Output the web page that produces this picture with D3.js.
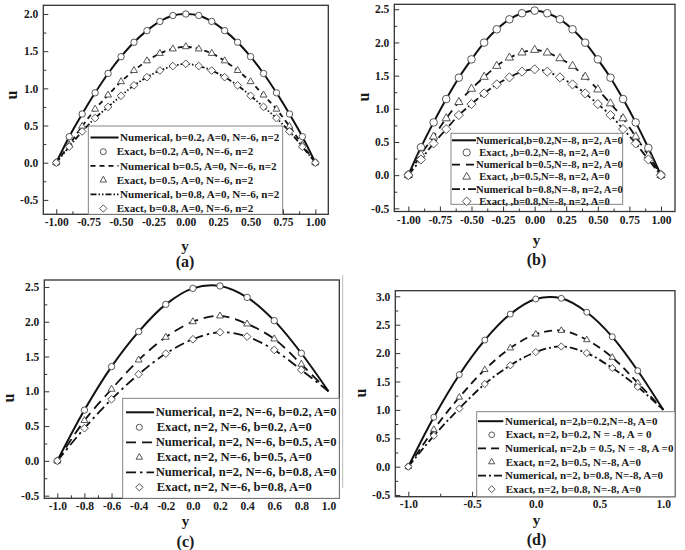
<!DOCTYPE html>
<html><head><meta charset="utf-8">
<script src="https://cdn.jsdelivr.net/npm/d3@7"></script>
<style>
body{margin:0;background:#fff}
svg{display:block}
text{font-family:"Liberation Serif","Times New Roman",serif;font-weight:bold;fill:#1a1a1a}
</style>
</head><body>
<svg id="chart" width="685" height="550"></svg>
<script>
// ---------- DATA ----------
// Panel (a): b = 0.2, 0.5, 0.8 ; A=0, N=-6, n=2
const aY = [-1,-0.9,-0.8,-0.7,-0.6,-0.5,-0.4,-0.3,-0.2,-0.1,0,0.1,0.2,0.3,0.4,0.5,0.6,0.7,0.8,0.9,1];
const aU02 = [0,0.35,0.655,0.94,1.2,1.426,1.62,1.776,1.9,1.98,2.0,1.98,1.9,1.776,1.62,1.426,1.2,0.94,0.655,0.35,0];
const aU05 = [0,0.24,0.49,0.72,0.91,1.09,1.24,1.37,1.47,1.53,1.56,1.53,1.47,1.37,1.24,1.09,0.91,0.72,0.49,0.24,0];
const aU08 = [0,0.215,0.42,0.6,0.75,0.9,1.04,1.15,1.24,1.3,1.33,1.3,1.24,1.15,1.04,0.9,0.75,0.6,0.42,0.215,0];
const aXTicks = [-1,-0.75,-0.5,-0.25,0,0.25,0.5,0.75,1];
const aYTicks = [-0.5,0,0.5,1,1.5,2];
const aLegend = ["Numerical, b=0.2, A=0, N=-6, n=2","Exact, b=0.2, A=0, N=-6, n=2","Numerical b=0.5, A=0, N=-6, n=2","Exact, b=0.5, A=0, N=-6, n=2","Numerical, b=0.8, A=0, N=-6, n=2","Exact, b=0.8, A=0, N=-6, n=2"];

// Panel (b): N=-8
const bY = [-1,-0.9,-0.8,-0.7,-0.6,-0.5,-0.4,-0.3,-0.2,-0.1,0,0.1,0.2,0.3,0.4,0.5,0.6,0.7,0.8,0.9,1];
const bU02 = [0,0.42,0.795,1.147,1.469,1.745,1.997,2.198,2.349,2.44,2.48,2.44,2.349,2.198,1.997,1.745,1.469,1.147,0.795,0.41,0];
const bU05 = [0,0.31,0.58,0.855,1.1,1.3,1.48,1.645,1.77,1.846,1.886,1.846,1.76,1.645,1.48,1.29,1.08,0.855,0.58,0.3,0];
const bU08 = [0,0.236,0.478,0.694,0.905,1.071,1.232,1.368,1.474,1.56,1.595,1.56,1.474,1.368,1.232,1.071,0.905,0.694,0.478,0.236,0];
const bXTicks = [-1,-0.75,-0.5,-0.25,0,0.25,0.5,0.75,1];
const bYTicks = [-0.5,0,0.5,1,1.5,2,2.5];
const bLegend = ["Numerical,b=0.2,N=-8, n=2, A=0","Exact, ,b=0.2,N=-8, n=2, A=0","Numerical b=0.5,N=-8, n=2, A=0","Exact, ,b=0.5,N=-8, n=2, A=0","Numerical b=0.8,N=-8, n=2, A=0","Exact, ,b=0.8,N=-8, n=2, A=0"];

// Panel (c): n=2, N=-6
const cLineY = [-1,-0.8,-0.6,-0.4,-0.2,0,0.2,0.4,0.6,0.8,1.0];
const cNum02 = [0,0.73,1.355,1.858,2.25,2.48,2.514,2.35,2.016,1.547,1.0];
const cNum05 = [0,0.58,1.03,1.45,1.777,2.0,2.083,1.968,1.753,1.389,1.0];
const cNum08 = [0,0.47,0.886,1.245,1.542,1.748,1.849,1.786,1.595,1.307,1.0];
const cExY = [-1,-0.8,-0.6,-0.4,-0.2,0,0.2,0.4,0.6,0.8];
const cEx02 = [0,0.73,1.355,1.858,2.25,2.48,2.514,2.35,2.016,1.547];
const cEx05 = [0,0.58,1.03,1.45,1.777,2.0,2.083,1.968,1.753,1.389];
const cEx08 = [0,0.47,0.886,1.245,1.542,1.748,1.849,1.786,1.595,1.307];
const cXTicks = [-1,-0.8,-0.6,-0.4,-0.2,0,0.2,0.4,0.6,0.8,1];
const cYTicks = [-0.5,0,0.5,1,1.5,2,2.5];
const cLegend = ["Numerical, n=2, N=-6, b=0.2, A=0","Exact, n=2, N=-6, b=0.2, A=0","Numerical, n=2, N=-6, b=0.5, A=0","Exact, n=2, N=-6, b=0.5, A=0","Numerical, n=2, N=-6, b=0.8, A=0","Exact, n=2, N=-6, b=0.8, A=0"];

// Panel (d): n=2, N=-8
const dLineY = [-1,-0.8,-0.6,-0.4,-0.2,0,0.2,0.4,0.6,0.8,1.0];
const dNum02 = [0,0.87,1.62,2.23,2.687,2.953,2.965,2.72,2.287,1.69,1.0];
const dNum05 = [0,0.655,1.222,1.708,2.088,2.333,2.398,2.234,1.924,1.474,1.0];
const dNum08 = [0,0.544,1.023,1.456,1.784,2.018,2.117,2.0,1.737,1.404,1.0];
const dExY = [-1,-0.8,-0.6,-0.4,-0.2,0,0.2,0.4,0.6,0.8];
const dEx02 = [0,0.87,1.62,2.23,2.687,2.953,2.965,2.72,2.287,1.69];
const dEx05 = [0,0.655,1.222,1.708,2.088,2.333,2.398,2.234,1.924,1.474];
const dEx08 = [0,0.544,1.023,1.456,1.784,2.018,2.117,2.0,1.737,1.404];
const dXTicks = [-1,-0.5,0,0.5,1];
const dYTicks = [-0.5,0,0.5,1,1.5,2,2.5,3];
const dLegend = ["Numerical, n=2,b=0.2,N=-8, A=0","Exact, n=2, b=0.2, N = -8, A = 0","Numerical, n=2,b = 0.5, N = -8, A =0","Exact, n=2, b=0.5, N=-8, A=0","Numerical, n=2, b=0.8, N=-8, A=0","Exact, n=2, b=0.8, N=-8, A=0"];

// ---------- LAYOUT / STYLE ----------
const panels = [
  {cap:"(a)", frame:{l:43.3,t:5.3,r:328.3,b:214.3}, xDom:[-1.1,1.1], yDom:[-0.694,2.117],
   xTicks:aXTicks, xDec:2, yTicks:aYTicks, mr:3.2, capPos:[185,267], xtPos:[185,251], ytPos:[17,95], pad:4,
   dashes:[null,"5,4","6,2,1.5,2,1.5,2"],
   series:[[aY,aU02,aY,aU02],[aY,aU05,aY,aU05],[aY,aU08,aY,aU08]],
   legend:{text:aLegend, box:[88.3,126,194.4,88.3], y0:137.5, dy:14.2, l0:90.5, l1:118.5, sx:103.3, tN:120, tE:116.7, fs:11.1}},
  {cap:"(b)", frame:{l:394.3,t:4.3,r:675,b:211.5}, xDom:[-1.111,1.111], yDom:[-0.548,2.575],
   xTicks:bXTicks, xDec:2, yTicks:bYTicks, mr:3.8, capPos:[536.5,265], xtPos:[536.5,245], ytPos:[369,97], pad:4,
   dashes:[null,"8,6","8,3,2,3"],
   series:[[bY,bU02,bY,bU02],[bY,bU05,bY,bU05],[bY,bU08,bY,bU08]],
   legend:{text:bLegend, box:[451,133.3,171.7,71], y0:140.3, dy:12.2, l0:452, l1:476, sx:466.7, tN:476, tE:479.3, fs:10.6}},
  {cap:"(c)", frame:{l:44.3,t:280,r:339.3,b:498.3}, xDom:[-1.096,1.08], yDom:[-0.538,2.6],
   xTicks:cXTicks, xDec:1, yTicks:cYTicks, mr:3.2, capPos:[185.5,547], xtPos:[185.5,526], ytPos:[14,398], pad:4,
   dashes:[null,"10,6","10,4,2.5,4"],
   series:[[cLineY,cNum02,cExY,cEx02],[cLineY,cNum05,cExY,cEx05],[cLineY,cNum08,cExY,cEx08]],
   legend:{text:cLegend, box:[122.7,398.3,216.6,100], y0:412.3, dy:15, l0:126, l1:154, sx:139.3, tN:155.7, tE:156.7, fs:12.6}},
  {cap:"(d)", frame:{l:395.3,t:290.7,r:675,b:496.7}, xDom:[-1.102,1.092], yDom:[-0.529,3.099],
   xTicks:dXTicks, xDec:1, yTicks:dYTicks, mr:3.0, capPos:[536.5,545], xtPos:[536.5,524.5], ytPos:[365.5,393], pad:3,
   dashes:[null,"8,5","8,3,2,3"],
   series:[[dLineY,dNum02,dExY,dEx02],[dLineY,dNum05,dExY,dEx05],[dLineY,dNum08,dExY,dEx08]],
   legend:{text:dLegend, box:[476.7,411.7,198.3,85], y0:421.2, dy:13.6, l0:478, l1:503.3, sx:491.7, tN:505, tE:505.7, fs:11}}
];
const symbols = ["circle","triangle","diamond"];

const svg = d3.select("#chart");
svg.append("rect").attr("width",685).attr("height",550).attr("fill","#fff");
// faint separator line at left of panel (d)
svg.append("line").attr("x1",342.7).attr("x2",342.7).attr("y1",275).attr("y2",488)
  .attr("stroke","#bbb").attr("stroke-width",1);

function symPath(type, r){
  if(type==="circle"){ const p=d3.path(); p.arc(0,0,r,0,2*Math.PI); return p.toString(); }
  if(type==="triangle"){ const s=r*1.25; return `M0,${-s}L${s*0.866},${s*0.5}L${-s*0.866},${s*0.5}Z`; }
  const s=r*1.2; return `M0,${-s}L${s},0L0,${s}L${-s},0Z`;
}

panels.forEach(P=>{
  const f=P.frame;
  const x=d3.scaleLinear().domain(P.xDom).range([f.l,f.r]);
  const y=d3.scaleLinear().domain(P.yDom).range([f.b,f.t]);
  const g=svg.append("g");

  const fmtX=d=>d.toFixed(P.xDec).replace(/^-(0\.0+)$/,"$1");
  const fmtY=d=>d.toFixed(1).replace(/^-(0\.0)$/,"$1");

  // major / minor ticks (inward)
  const xMinor=P.xTicks.slice(0,-1).map((v,i)=>(v+P.xTicks[i+1])/2);
  const yMinor=P.yTicks.slice(0,-1).map((v,i)=>(v+P.yTicks[i+1])/2);
  const ax=g.append("g").attr("transform",`translate(0,${f.b})`)
    .call(d3.axisBottom(x).tickValues(P.xTicks).tickFormat(fmtX).tickSize(-5).tickPadding(P.pad));
  const axm=g.append("g").attr("transform",`translate(0,${f.b})`)
    .call(d3.axisBottom(x).tickValues(xMinor).tickFormat("").tickSize(-3));
  const ay=g.append("g").attr("transform",`translate(${f.l},0)`)
    .call(d3.axisLeft(y).tickValues(P.yTicks).tickFormat(fmtY).tickSize(-5).tickPadding(5));
  const aym=g.append("g").attr("transform",`translate(${f.l},0)`)
    .call(d3.axisLeft(y).tickValues(yMinor).tickFormat("").tickSize(-3));
  [ax,axm,ay,aym].forEach(a=>{
    a.select(".domain").remove();
    a.selectAll("line").attr("stroke","#333").attr("stroke-width",1);
    a.selectAll("text").attr("font-family","Liberation Serif, serif").attr("font-weight","bold")
      .attr("font-size",11.5).attr("fill","#1a1a1a");
  });

  // curves
  const line=d3.line().x(d=>x(d[0])).y(d=>y(d[1])).curve(d3.curveCatmullRom.alpha(0.5));
  P.series.forEach((s,i)=>{
    const pts=s[0].map((v,k)=>[v,s[1][k]]);
    g.append("path").attr("d",line(pts)).attr("fill","none").attr("stroke","#111")
      .attr("stroke-width",i===0?2:1.8).attr("stroke-dasharray",P.dashes[i]);
  });
  // exact markers
  P.series.forEach((s,i)=>{
    const pts=s[2].map((v,k)=>[v,s[3][k]]);
    g.selectAll(null).data(pts).enter().append("path")
      .attr("d",symPath(symbols[i],P.mr))
      .attr("transform",d=>`translate(${x(d[0])},${y(d[1])})`)
      .attr("fill","#fff").attr("stroke","#444").attr("stroke-width",0.9);
  });

  // frame
  g.append("rect").attr("x",f.l).attr("y",f.t).attr("width",f.r-f.l).attr("height",f.b-f.t)
    .attr("fill","none").attr("stroke","#333").attr("stroke-width",1.3);

  // legend
  const L=P.legend;
  g.append("rect").attr("x",L.box[0]).attr("y",L.box[1]).attr("width",L.box[2]).attr("height",L.box[3])
    .attr("fill","#fff").attr("stroke","#777").attr("stroke-width",0.9);
  L.text.forEach((t,k)=>{
    const yy=L.y0+k*L.dy, si=Math.floor(k/2);
    if(k%2===0){
      g.append("line").attr("x1",L.l0).attr("x2",L.l1).attr("y1",yy).attr("y2",yy)
        .attr("stroke","#111").attr("stroke-width",si===0?2:1.8).attr("stroke-dasharray",P.dashes[si]);
    } else {
      g.append("path").attr("d",symPath(symbols[si],P.mr*0.95)).attr("transform",`translate(${L.sx},${yy})`)
        .attr("fill","#fff").attr("stroke","#444").attr("stroke-width",0.9);
    }
    g.append("text").attr("x",k%2===0?L.tN:L.tE).attr("y",yy).attr("dy","0.33em")
      .attr("font-size",L.fs).text(t);
  });

  // axis titles & caption
  g.append("text").attr("x",P.xtPos[0]).attr("y",P.xtPos[1]).attr("text-anchor","middle")
    .attr("font-size",15).text("y");
  g.append("text").attr("transform",`translate(${P.ytPos[0]},${P.ytPos[1]}) rotate(-90)`)
    .attr("text-anchor","middle").attr("font-size",16).text("u");
  g.append("text").attr("x",P.capPos[0]).attr("y",P.capPos[1]).attr("text-anchor","middle")
    .attr("font-size",16).text(P.cap);
});
</script>
</body></html>
